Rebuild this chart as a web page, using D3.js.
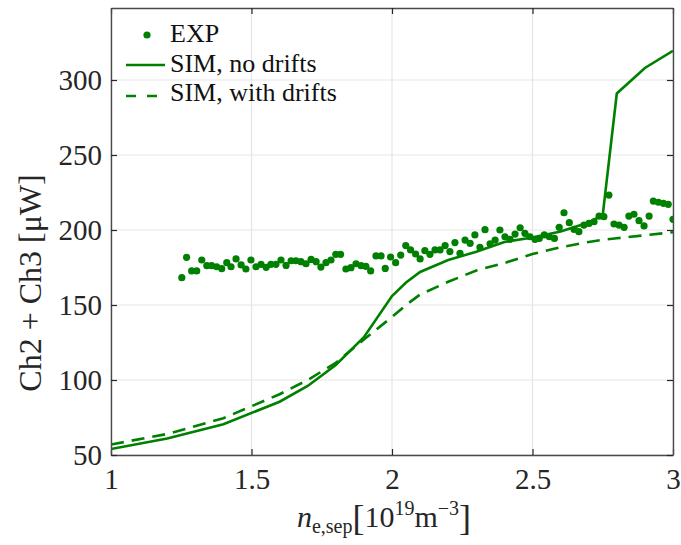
<!DOCTYPE html>
<html><head><meta charset="utf-8">
<script src="https://cdn.jsdelivr.net/npm/d3@7"></script>
<style>body{margin:0;background:#fff}svg{display:block}
text{font-family:"Liberation Serif","Times New Roman","Nimbus Roman","DejaVu Serif",serif;}</style>
</head><body>
<svg id="c" width="681" height="545"></svg>
<script>
const expX = [1.252,1.269,1.287,1.305,1.323,1.341,1.358,1.376,1.394,1.412,1.427,1.445,1.463,1.480,1.498,1.516,1.534,1.552,1.569,1.587,1.605,1.623,1.641,1.658,1.676,1.694,1.712,1.730,1.747,1.765,1.783,1.800,1.817,1.836,1.854,1.872,1.890,1.907,1.924,1.943,1.961,1.976,1.995,2.013,2.031,2.049,2.066,2.084,2.100,2.117,2.135,2.153,2.171,2.189,2.206,2.224,2.242,2.260,2.278,2.295,2.313,2.331,2.349,2.367,2.384,2.402,2.420,2.438,2.456,2.473,2.491,2.509,2.524,2.542,2.560,2.578,2.595,2.612,2.631,2.648,2.665,2.683,2.701,2.719,2.737,2.754,2.772,2.790,2.808,2.826,2.843,2.861,2.879,2.897,2.915,2.930,2.948,2.966,2.983,3.000];
const expY = [168.2,181.8,172.7,172.7,180,176.2,176.2,175.5,174.2,178.2,175.5,180.7,176.7,174,180,175.5,177.1,175.1,177.1,177.1,180,176.4,179.5,179.5,178.9,177.5,180.4,178.9,175.3,178.2,180,183.8,183.8,174,174.9,177.5,176.2,175.8,172.7,182.7,182.7,174.4,182,178.2,183.3,189.6,186.7,184,180.7,186.2,183.8,186.7,186.7,189.6,185.6,191.6,184.4,193.3,191.1,196.7,188.5,200.2,190.8,193.3,200,195.5,193.8,197.3,201.5,197.8,195.5,193.8,194.4,196.7,195.5,194.4,201.8,211.5,204.9,200.4,198.9,203.3,204.4,205.5,209.3,208.9,223.3,204,203.3,201.8,209.3,210.5,206.2,202.7,209.3,219.3,218.5,217.8,217.1,207.1];
const simX = [1.0,1.2,1.4,1.6,1.7,1.8,1.9,2.0,2.05,2.1,2.2,2.3,2.4,2.5,2.6,2.7,2.75,2.8,2.9,3.0];
const simNoDrifts = [54,61,70.5,85.5,96,110,128.5,156,165,172,180,185.5,192,195,199,205,210,291,308,319.5];
const simDrifts = [57,64,74.5,90.5,100,111.5,127,142,150,157,165.5,173,178,184,188.5,192,193.5,194.5,196.5,198.5];
const xTicks = [1,1.5,2,2.5,3];
const xTickLabels = ["1","1.5","2","2.5","3"];
const yTicks = [50,100,150,200,250,300];
const legendLabels = ["EXP","SIM, no drifts","SIM, with drifts"];

const green = "#008000";
const L = 111, R = 673, T = 8, B = 455;
const svg = d3.select("#c");
const x = d3.scaleLinear().domain([1,3]).range([L,R]);
const y = d3.scaleLinear().domain([50,348]).range([B,T]);

// grid
const g = svg.append("g");
g.selectAll(".gx").data(xTicks).join("line")
  .attr("x1",d=>x(d)).attr("x2",d=>x(d)).attr("y1",T).attr("y2",B)
  .attr("stroke","#e5e5e5").attr("stroke-width",1.2);
g.selectAll(".gy").data(yTicks).join("line")
  .attr("y1",d=>y(d)).attr("y2",d=>y(d)).attr("x1",L).attr("x2",R)
  .attr("stroke","#e5e5e5").attr("stroke-width",1.2);

svg.append("clipPath").attr("id","pc").append("rect")
  .attr("x",L).attr("y",T).attr("width",R-L).attr("height",B-T);
const plot = svg.append("g").attr("clip-path","url(#pc)");

const line = d3.line().x(d=>x(d[0])).y(d=>y(d[1]));
plot.append("path").datum(simX.map((v,i)=>[v,simDrifts[i]]))
  .attr("d",line).attr("fill","none").attr("stroke",green)
  .attr("stroke-width",2.6).attr("stroke-dasharray","13,8");
plot.append("path").datum(simX.map((v,i)=>[v,simNoDrifts[i]]))
  .attr("d",line).attr("fill","none").attr("stroke",green).attr("stroke-width",2.6);
plot.selectAll("circle").data(expX.map((v,i)=>[v,expY[i]])).join("circle")
  .attr("cx",d=>x(d[0])).attr("cy",d=>y(d[1])).attr("r",3.6).attr("fill",green);

// axes
const axC = "#4a4a4a";
const xb = svg.append("g").attr("transform",`translate(0,${B})`)
  .call(d3.axisBottom(x).tickValues(xTicks).tickFormat((d,i)=>xTickLabels[i]).tickSizeInner(-6).tickSizeOuter(0).tickPadding(13));
const xt = svg.append("g").attr("transform",`translate(0,${T})`)
  .call(d3.axisTop(x).tickValues(xTicks).tickFormat("").tickSizeInner(-6).tickSizeOuter(0));
const yl = svg.append("g").attr("transform",`translate(${L},0)`)
  .call(d3.axisLeft(y).tickValues(yTicks).tickSizeInner(-6).tickSizeOuter(0).tickPadding(9));
const yr = svg.append("g").attr("transform",`translate(${R},0)`)
  .call(d3.axisRight(y).tickValues(yTicks).tickFormat("").tickSizeInner(-6).tickSizeOuter(0));
[xb,xt,yl,yr].forEach(a=>{
  a.attr("font-family",null);
  a.select(".domain").attr("stroke",axC).attr("stroke-width",1.4);
  a.selectAll(".tick line").attr("stroke","#262626").attr("stroke-width",1.2);
  a.selectAll("text").attr("font-size",29).attr("fill","#262626");
});
xb.selectAll("text").attr("dy","0.71em");
yl.selectAll("text").attr("dy","0.34em");

// legend
const lg = svg.append("g").attr("font-size",25).attr("fill","#111");
lg.append("circle").attr("cx",147).attr("cy",35).attr("r",3.6).attr("fill",green);
lg.append("line").attr("x1",126).attr("x2",165).attr("y1",65).attr("y2",65).attr("stroke",green).attr("stroke-width",2.6);
lg.append("line").attr("x1",126).attr("x2",165).attr("y1",96).attr("y2",96).attr("stroke",green).attr("stroke-width",2.6).attr("stroke-dasharray","10,11");
[42,72,101].forEach((yy,i)=>lg.append("text").attr("x",170).attr("y",yy).attr("font-size",26).text(legendLabels[i]));

// y label
svg.append("text").attr("transform","translate(41,283) rotate(-90)")
  .attr("text-anchor","middle").attr("font-size",32).attr("fill","#262626")
  .text("Ch2 + Ch3 [μW]");

// x label
const xl = svg.append("text").attr("x",384).attr("y",527).attr("text-anchor","middle")
  .attr("font-size",30).attr("fill","#262626");
xl.append("tspan").attr("font-style","italic").text("n");
xl.append("tspan").attr("font-size",20).attr("dy",6).text("e,sep");
xl.append("tspan").attr("font-size",36).attr("dy",-3).text("[");
xl.append("tspan").attr("dy",-3).text("10");
xl.append("tspan").attr("font-size",20).attr("dy",-12).text("19");
xl.append("tspan").attr("dy",12).text("m");
xl.append("tspan").attr("font-size",20).attr("dy",-12).text("−3");
xl.append("tspan").attr("font-size",36).attr("dy",15).text("]");
</script>
</body></html>
